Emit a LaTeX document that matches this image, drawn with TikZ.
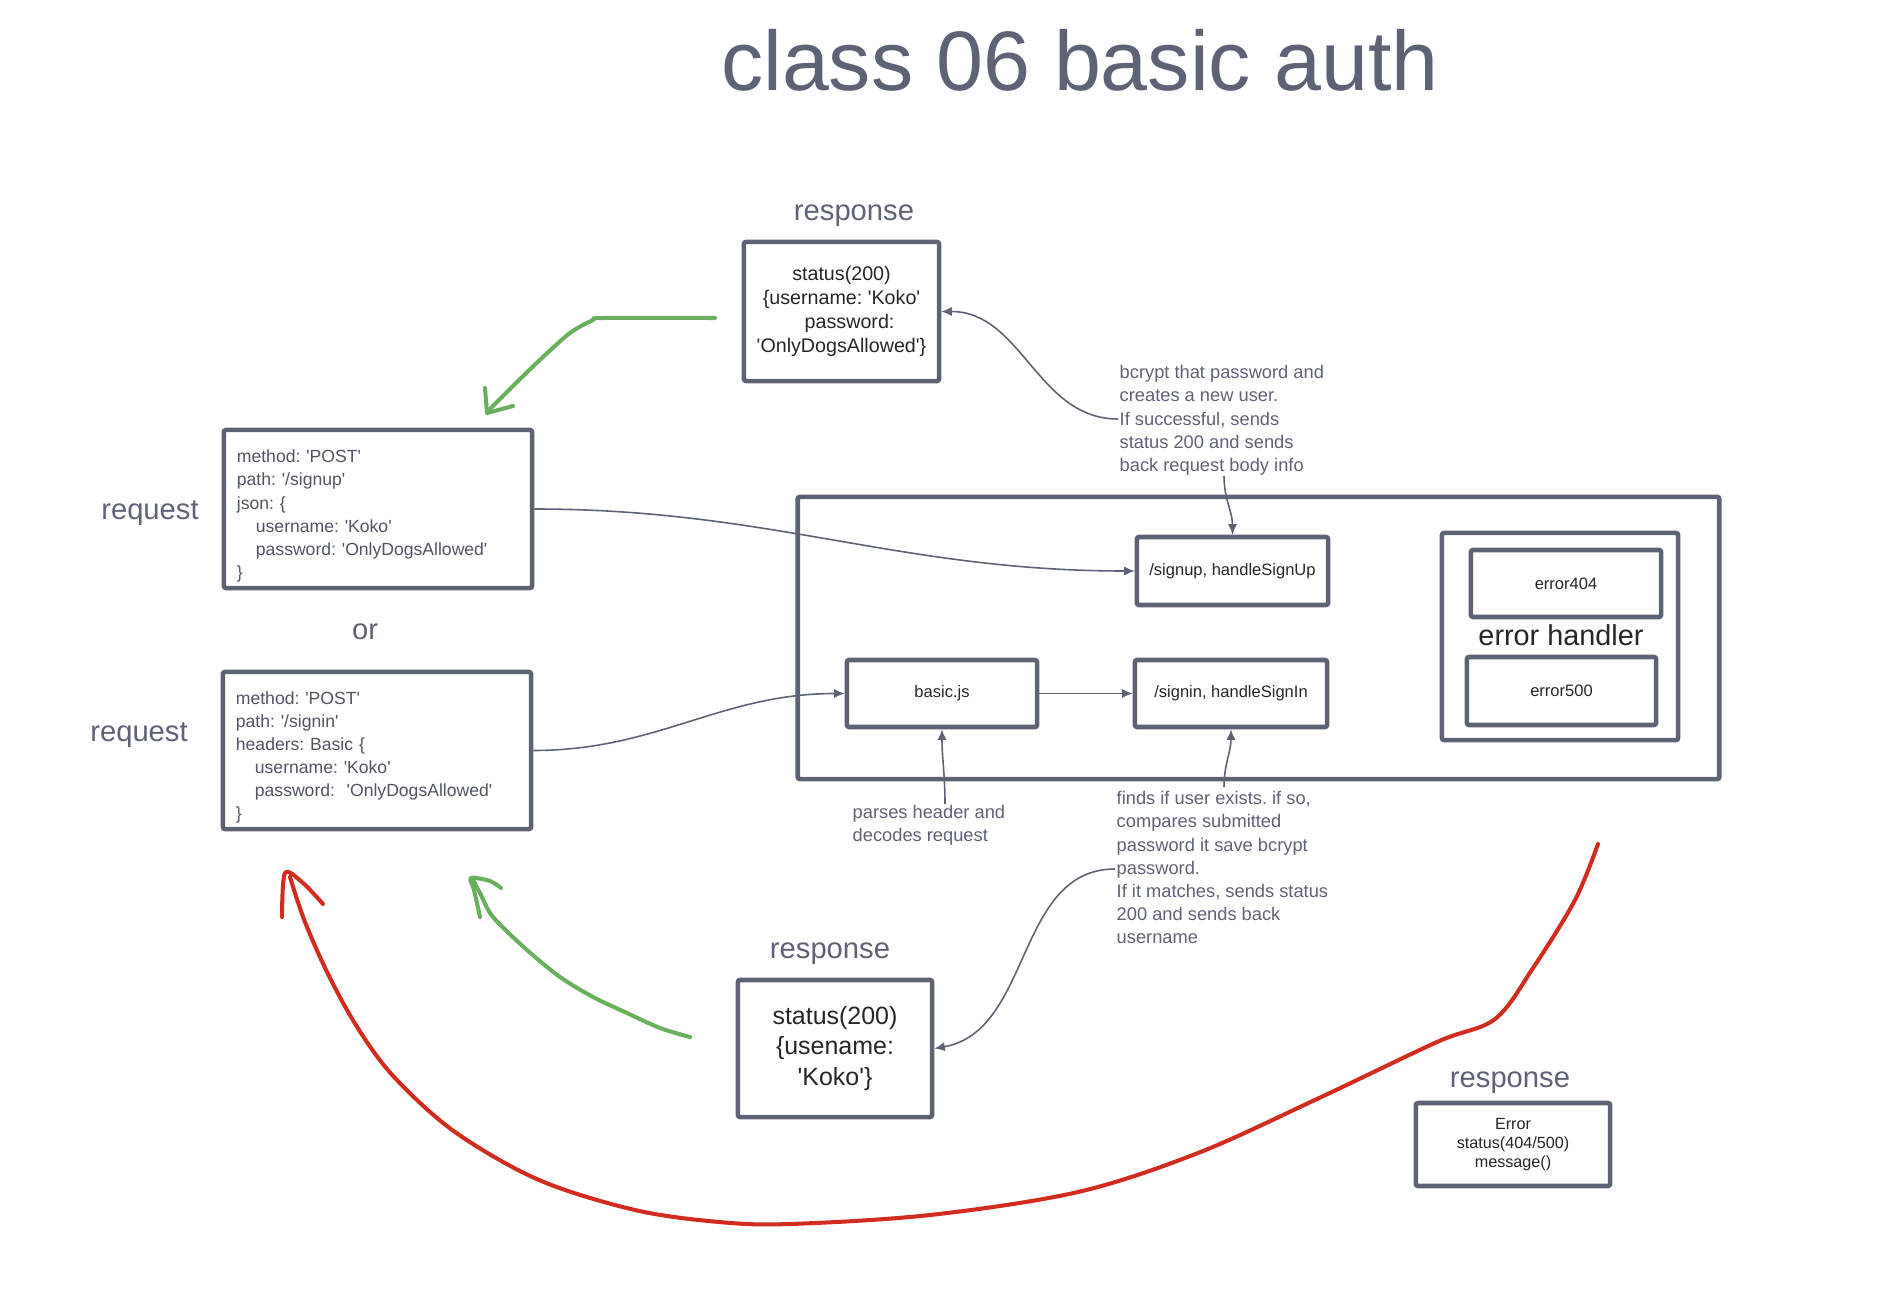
\documentclass[tikz,border=0pt]{standalone}
\usepackage{fontspec}
\setmainfont{Liberation Sans}
\newfontfamily\plainsans{Liberation Sans}
\usetikzlibrary{arrows.meta}
\definecolor{slate}{RGB}{93,98,117}
\definecolor{ink}{RGB}{38,38,42}
\definecolor{reqink}{RGB}{80,85,100}
\definecolor{pengreen}{RGB}{104,176,92}
\definecolor{penred}{RGB}{210,44,30}
\newcommand{\fsz}[2]{\plainsans\fontsize{#1}{#2}\selectfont}
\frenchspacing
\begin{document}
\begin{tikzpicture}[x=0.01cm, y=-0.01cm,
  box/.style={draw=slate, line width=1.3pt, rounded corners=0.6pt},
  label/.style={text=slate, font=\fsz{8.3}{10}},
  conn/.style={draw=slate, line width=0.45pt, -{Latex[length=3pt,width=2.6pt]}},
  note/.style={text=slate, align=left, anchor=north west, inner sep=0pt, font=\fsz{5.2}{6.55}},
  pen/.style={line width=1.15pt, line cap=round, line join=round}]
  \useasboundingbox (0,0) rectangle (1878,1294);

  \node[text=slate, font=\fsz{24}{28}, anchor=base] (title) at (1080,91) {class 06 basic auth};

  \node[label] (lresp1) at (854,216) {response};
  \node[box, minimum width=1.95cm, minimum height=1.39cm, align=center, text=ink, font=\fsz{5.6}{6.9}] (resp1) at (841.5,311.5)
    {status(200)\\\{username: 'Koko'\\\hspace*{4.6pt}password:\\'OnlyDogsAllowed'\}};

  \node[label] (lreq1) at (150,513) {request};
  \node[box, text=reqink, align=left, text width=2.82cm, inner xsep=0.13cm, inner ysep=0pt, minimum height=1.58cm, font=\fsz{5}{6.55}] (req1) at (378,509)
    {\rule{0pt}{7.6pt}method: 'POST'\\path: '/signup'\\json: \{\\\hspace*{5.4pt}username: 'Koko'\\\hspace*{5.4pt}password: 'OnlyDogsAllowed'\\\}};
  \node[label] (lor) at (365,632) {or};
  \node[label] (lreq2) at (139,735) {request};
  \node[box, text=reqink, align=left, text width=2.82cm, inner xsep=0.13cm, inner ysep=0pt, minimum height=1.57cm, font=\fsz{5}{6.55}] (req2) at (377,750.5)
    {\rule{0pt}{7.6pt}method: 'POST'\\path: '/signin'\\headers: Basic \{\\\hspace*{5.4pt}username: 'Koko'\\\hspace*{5.4pt}password:\ \ 'OnlyDogsAllowed'\\\}};

  \node[box, minimum width=9.21cm, minimum height=2.82cm] (server) at (1258.5,638) {};
  \node[box, minimum width=1.91cm, minimum height=0.68cm, text=ink, font=\fsz{4.7}{6}] (signup) at (1232.5,571) {/signup, handleSignUp};
  \node[box, minimum width=1.92cm, minimum height=0.67cm, text=ink, font=\fsz{4.7}{6}] (signin) at (1231,693.5) {/signin, handleSignIn};
  \node[box, minimum width=1.90cm, minimum height=0.67cm, text=ink, font=\fsz{4.7}{6}] (basic) at (942,693.5) {basic.js};
  \node[box, minimum width=2.36cm, minimum height=2.07cm] (errh) at (1560,636.5) {};
  \node[box, minimum width=1.90cm, minimum height=0.67cm, text=ink, font=\fsz{4.7}{6}] (e404) at (1566,583.5) {error404};
  \node[box, minimum width=1.89cm, minimum height=0.68cm, text=ink, font=\fsz{4.7}{6}] (e500) at (1561.5,691) {error500};
  \node[text=ink, font=\fsz{8.2}{10}] (lerrh) at (1561,635) {error handler};

  \node[note] (bcnote) at (1119,365) {bcrypt that password and\\creates a new user.\\If successful, sends\\status 200 and sends\\back request body info};
  \node[note] (fdnote) at (1116,791) {finds if user exists. if so,\\compares submitted\\password it save bcrypt\\password.\\If it matches, sends status\\200 and sends back\\username};
  \node[note] (psnote) at (852,805) {parses header and\\decodes request};

  \node[label] (lresp2) at (830,954) {response};
  \node[box, minimum width=1.94cm, minimum height=1.37cm, align=center, text=ink, font=\fsz{7.1}{8.7}] (resp2) at (835,1048.5)
    {status(200)\\\{usename:\\'Koko'\}};
  \node[label] (lresp3) at (1510,1083) {response};
  \node[box, minimum width=1.94cm, minimum height=0.83cm, align=center, text=ink, font=\fsz{4.6}{5.5}] (resp3) at (1513,1144.5)
    {Error\\status(404/500)\\message()};

  \coordinate (bcleft) at (1118,419);
  \coordinate (bcfoot) at (1224,476);
  \coordinate (fdtop) at (1224,787);
  \coordinate (fdleft) at (1115,869);
  \coordinate (psfoot) at (945,804);
  \draw[conn] (req1.east) to[out=0, in=180] (signup.west);
  \draw[conn] (req2.east) to[out=0, in=180] (basic.west);
  \draw[conn] (basic.east) -- (signin.west);
  \draw[conn] (bcleft) to[out=180, in=0] (resp1.east);
  \draw[conn] (bcfoot) to[out=-90, in=90] (signup.north);
  \draw[conn] (fdtop) to[out=90, in=-90] (signin.south);
  \draw[conn] (fdleft) to[out=180, in=10] (resp2.east);
  \draw[conn] (psfoot) to[out=90, in=-90] (basic.south);

  \draw[pen, pengreen] plot[smooth, tension=0.5] coordinates {(715,318) (603,318) (593,320) (570,333) (543,357) (517,382) (492,407) (488,411)};
  \draw[pen, pengreen] (485,388) -- (487,413) -- (513,406);
  \draw[pen, pengreen] plot[smooth, tension=0.5] coordinates {(690,1037) (660,1028) (627,1013) (593,997) (560,977) (527,950) (493,917) (480,893) (473,880)};
  \draw[pen, pengreen] plot[smooth, tension=0.5] coordinates {(480,917) (474,890) (471,878) (490,881) (501,888)};
  \draw[pen, penred] plot[smooth, tension=0.55] coordinates {(1598,844) (1575,900) (1533,968) (1495,1019) (1437,1042) (1317,1099) (1198,1153) (1078,1192) (930,1215) (790,1224) (719,1222) (635,1210) (539,1180) (455,1132) (395,1078) (359,1030) (329,976) (305,922) (290,877)};
  \draw[pen, penred] plot[smooth, tension=0.5] coordinates {(282,917) (285,873) (303,883) (323,904)};
\end{tikzpicture}
\end{document}
